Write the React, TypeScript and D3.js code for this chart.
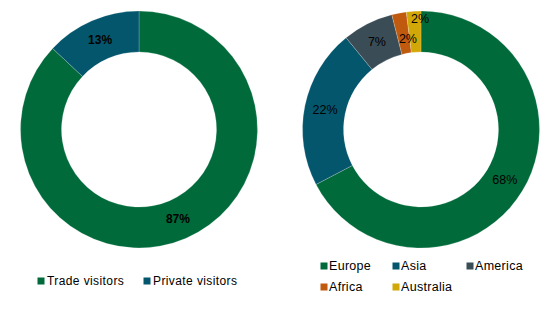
import React from "react";
import * as d3 from "d3";

const visitorTypes = ["Trade visitors", "Private visitors"];
const visitorShares = [87, 13];
const visitorColors = ["#006A3A", "#03566C"];

const regions = ["Europe", "Asia", "America", "Africa", "Australia"];
const regionShares = [68, 22, 7, 2, 2];
const regionColors = ["#006A3A", "#03566C", "#3A4C55", "#BF5A0E", "#D2A808"];
// label radial offsets (relative to ring centroid) for small slices
const regionLabelShift = [0, 0, 0, -6, 13];

const W = 557;
const H = 311;
const R = 118.5;
const r = 77.5;

function Donut({ cx, cy, values, colors, bold, shifts, fontSize }: any) {
  const pie = d3.pie<number>().sort(null).value((d) => d);
  const arcs = pie(values);
  const arc = d3.arc<any>().innerRadius(r).outerRadius(R);
  const total = d3.sum(values);
  return (
    <g transform={`translate(${cx},${cy})`}>
      {arcs.map((a, i) => (
        <path key={i} d={arc(a) as string} fill={colors[i]} stroke="#ffffff" strokeOpacity={0.35} strokeWidth={0.6} />
      ))}
      {arcs.map((a, i) => {
        const mid = (a.startAngle + a.endAngle) / 2;
        const rr = (r + R) / 2 + (shifts ? shifts[i] : 0);
        let x = Math.sin(mid) * rr;
        let y = -Math.cos(mid) * rr;
        if (shifts && i === 3) { x += 4; }
        if (shifts && i === 4) { x += 6; }
        return (
          <text key={"t" + i} x={x} y={y} textAnchor="middle" dominantBaseline="central"
            fontFamily="Arial, Liberation Sans, sans-serif" fontSize={fontSize} fontWeight={bold ? "bold" : "normal"} fill="#000">
            {Math.round((values[i] / total) * 100 * (total / 100)) + "%"}
          </text>
        );
      })}
    </g>
  );
}

export default function App() {
  const font = "Arial, Liberation Sans, sans-serif";
  return (
    <svg width={W} height={H} style={{ position: "absolute", left: 0, top: 0, background: "#fff" }}>
      <Donut cx={139} cy={129.5} values={visitorShares} colors={visitorColors} bold={true} fontSize={12} />
      <Donut cx={421} cy={129.5} values={regionShares} colors={regionColors} bold={false} shifts={regionLabelShift} fontSize={12.5} />
      {/* left legend */}
      {visitorTypes.map((name, i) => {
        const xs = [38, 144];
        return (
          <g key={name}>
            <rect x={xs[i] - 0.5} y={277.5} width={7} height={7} fill={visitorColors[i]} />
            <text x={xs[i] + 9} y={281} dominantBaseline="central" fontFamily={font} fontSize={12} fill="#000" letterSpacing={0.4}>
              {name}
            </text>
          </g>
        );
      })}
      {/* right legend */}
      {regions.map((name, i) => {
        const xs = [321, 393, 467];
        const col = i % 3;
        const row = Math.floor(i / 3);
        const x = xs[col];
        const y = 266 + row * 21;
        return (
          <g key={name}>
            <rect x={x - 0.5} y={y - 3.5} width={7} height={7} fill={regionColors[i]} />
            <text x={x + 8} y={y} dominantBaseline="central" fontFamily={font} fontSize={12.5} fill="#000" letterSpacing={0.3}>
              {name}
            </text>
          </g>
        );
      })}
    </svg>
  );
}
